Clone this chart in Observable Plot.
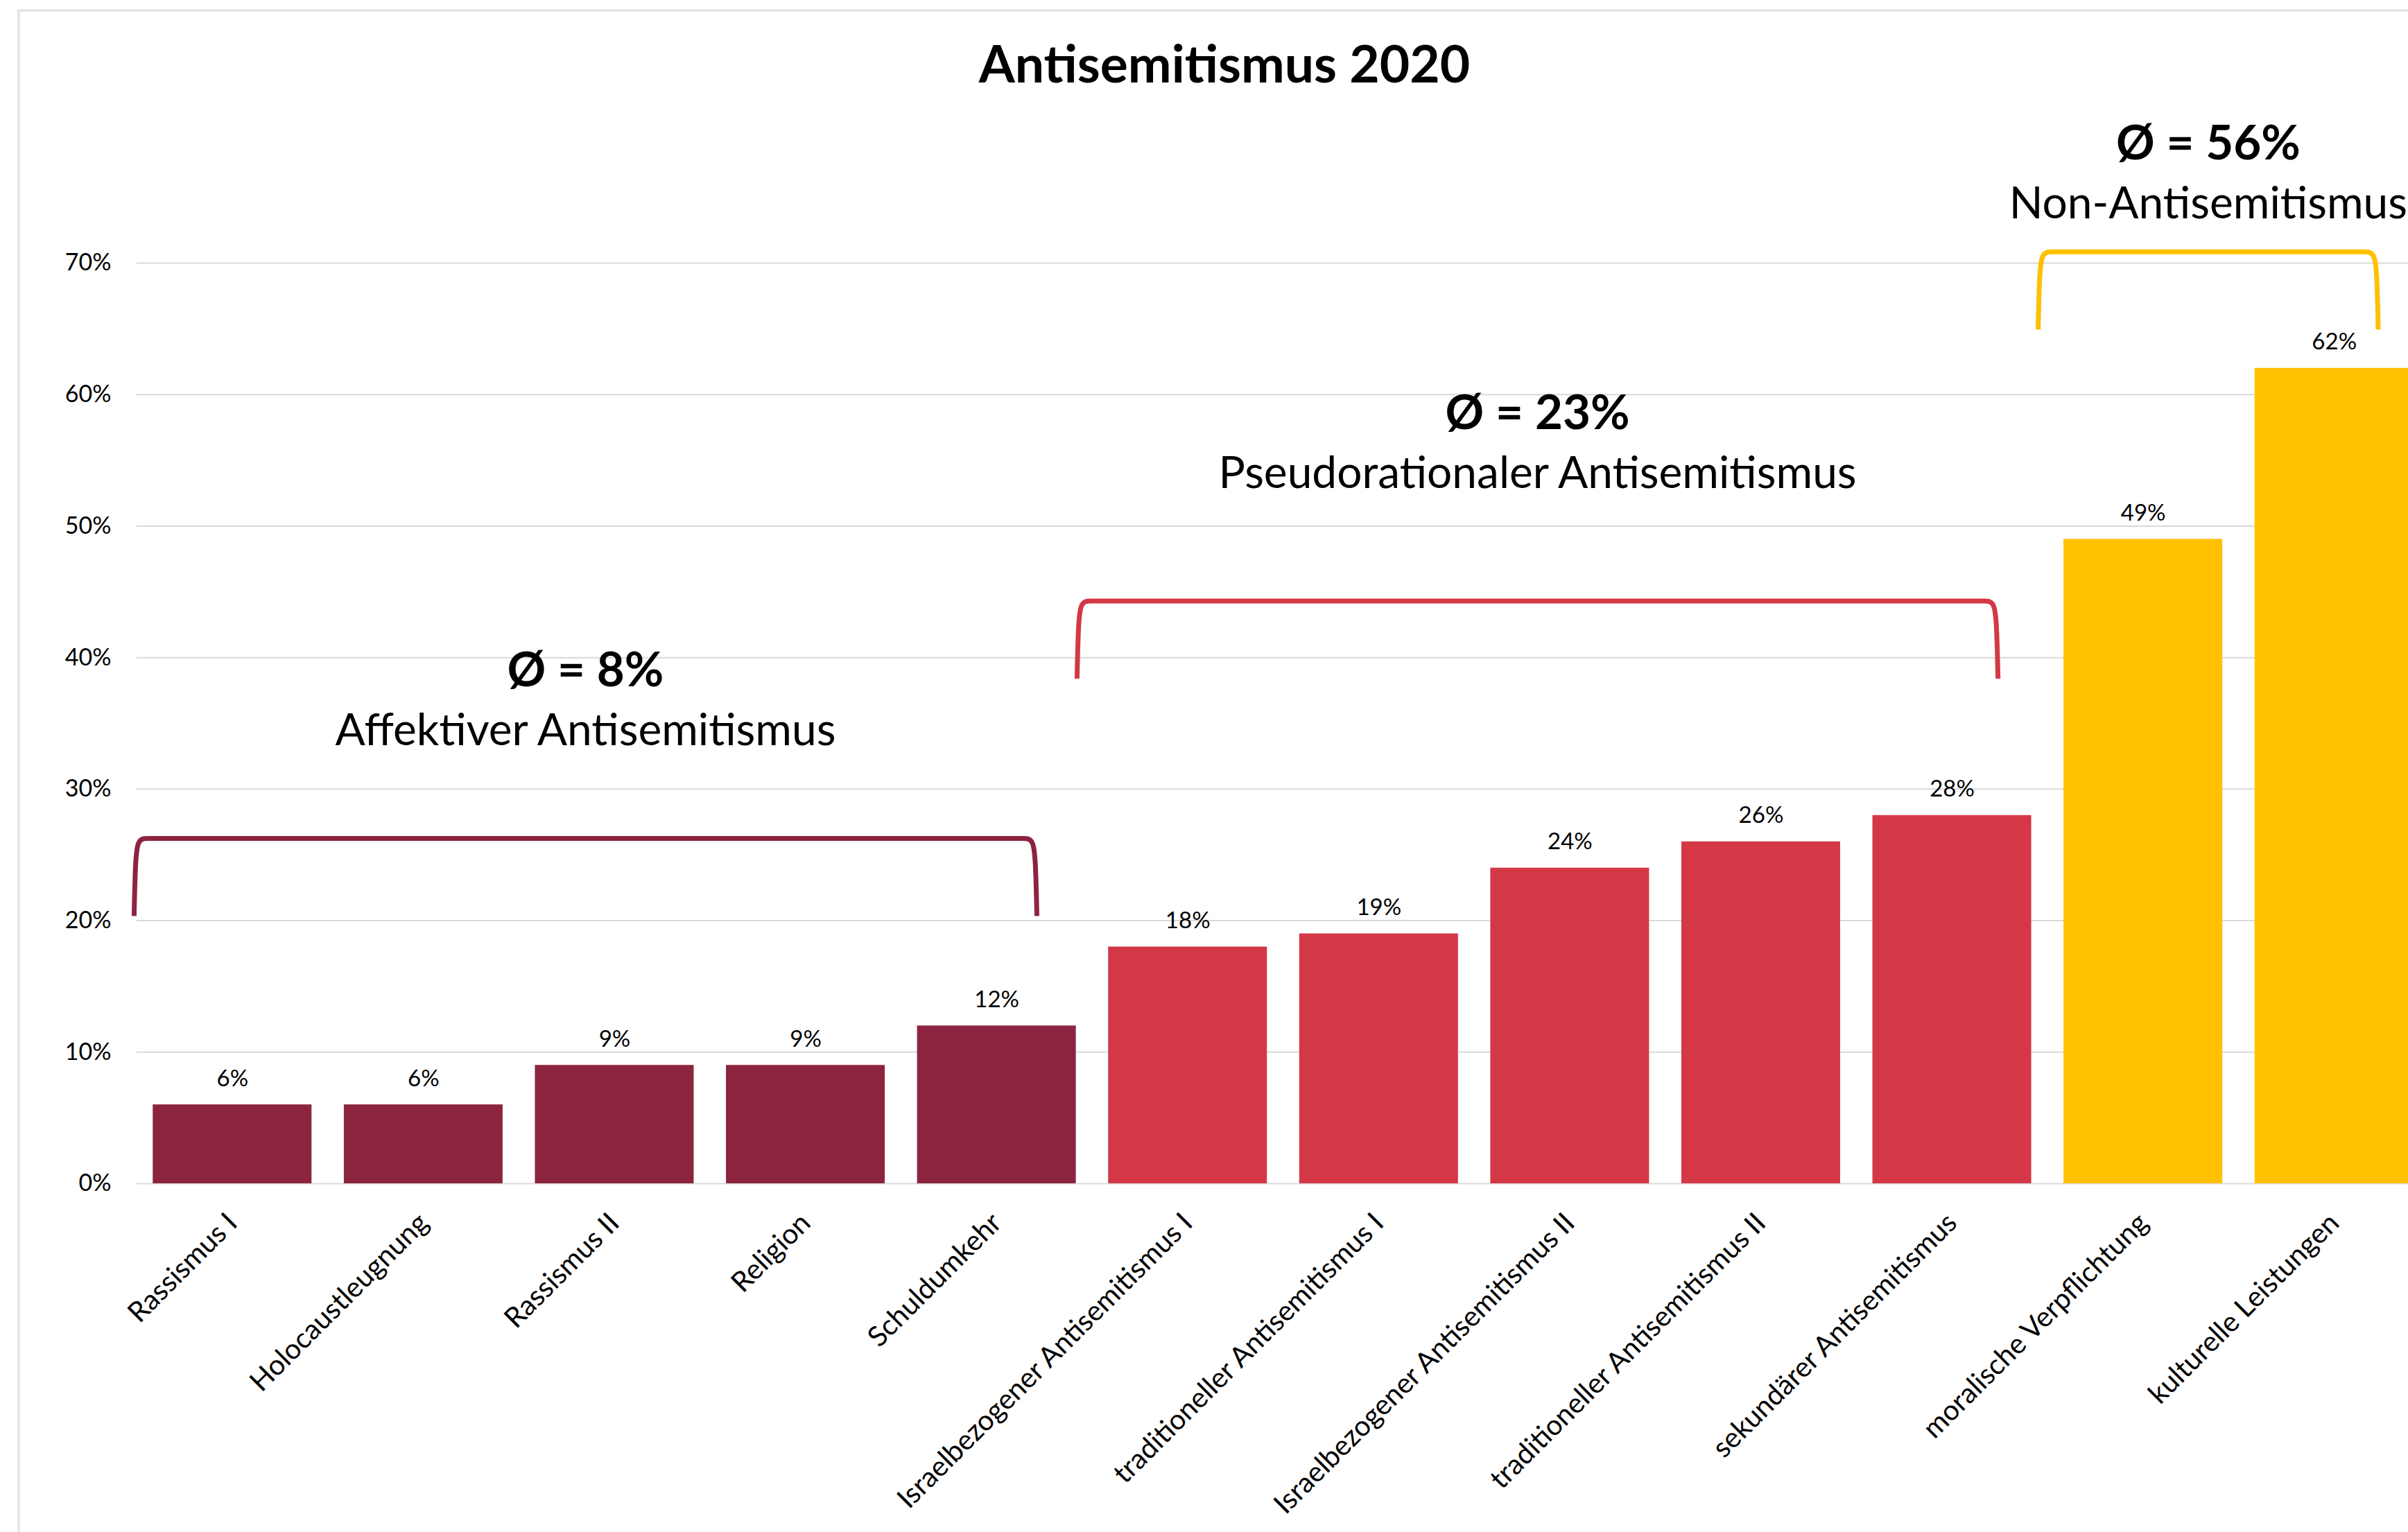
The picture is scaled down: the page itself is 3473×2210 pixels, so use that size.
<!DOCTYPE html>
<html>
<head>
<meta charset="utf-8">
<script src="https://cdn.jsdelivr.net/npm/d3@7"></script>
<script src="https://cdn.jsdelivr.net/npm/@observablehq/plot@0.6"></script>
<style>
  html, body { margin: 0; padding: 0; background: #fff; overflow: hidden; }
  #wrap { position: relative; width: 3473px; height: 2210px; background: #fff; }
  #title { height: 150px; box-sizing: border-box; padding-top: 45px; padding-left: 59px;
           line-height: 90px; font-family: Lato, sans-serif; font-weight: bold; font-size: 75px;
           text-align: center; white-space: nowrap; color: #000; }
  #frame { position: absolute; left: 25px; top: 13px; right: 0; bottom: 0;
           border-top: 4px solid #e6e6e6; border-left: 4px solid #e6e6e6; pointer-events: none; }
</style>
</head>
<body>
<div id="wrap">
  <div id="title">Antisemitismus 2020</div>
  <div id="chart"></div>
  <div id="frame"></div>
</div>
<script>
// ---- data ----
const categories = [
  "Rassismus I", "Holocaustleugnung", "Rassismus II", "Religion", "Schuldumkehr",
  "Israelbezogener Antisemitismus I", "traditioneller Antisemitismus I",
  "Israelbezogener Antisemitismus II", "traditioneller Antisemitismus II",
  "sekundärer Antisemitismus", "moralische Verpflichtung", "kulturelle Leistungen"
];
const values = [6, 6, 9, 9, 12, 18, 19, 24, 26, 28, 49, 62];
const groupOf = ["aff", "aff", "aff", "aff", "aff",
                 "pseudo", "pseudo", "pseudo", "pseudo", "pseudo",
                 "non", "non"];
const groupKeys = ["aff", "pseudo", "non"];
const groupNames = ["Affektiver Antisemitismus", "Pseudorationaler Antisemitismus", "Non-Antisemitismus"];
const groupColors = ["#8C2440", "#D43846", "#FFC000"];
// bracket annotations (x in category-index units, y in %)
const bracketStart = [-0.515, 4.42, 9.45];
const bracketEnd = [4.21, 9.24, 11.23];
const bracketTop = [26.25, 44.3, 70.85];
const groupLabelY = [37.8, 57.4, 77.9];
const yTicks = [0, 10, 20, 30, 40, 50, 60, 70];

// ---- derived tables ----
const bars = categories.map((name, i) => ({i, name, value: values[i], group: groupOf[i]}));

const groups = groupKeys.map((g, k) => ({
  group: g,
  name: groupNames[k],
  x: (bracketStart[k] + bracketEnd[k]) / 2,
  y: groupLabelY[k],
  avg: Math.round(d3.mean(bars.filter(b => b.group === g), b => b.value))
}));

const LEG = 5.9;
const bracketPts = groupKeys.flatMap((g, k) => {
  const x0 = bracketStart[k], x1 = bracketEnd[k], t = bracketTop[k], b = t - LEG;
  return [
    [x0, b], [x0, b], [x0 + 0.006, t - 2.2], [x0 + 0.016, t], [x0 + 0.07, t], [x0 + 0.14, t],
    [x1 - 0.14, t], [x1 - 0.07, t], [x1 - 0.016, t], [x1 - 0.006, t - 2.2], [x1, b], [x1, b]
  ].map(([x, y]) => ({group: g, x, y}));
});

const chart = Plot.plot({
  width: 3473,
  height: 2060,
  marginTop: 229,
  marginBottom: 503,
  marginLeft: 197,
  marginRight: 0,
  style: {fontFamily: "Lato, sans-serif", fontSize: "33px", background: "white", color: "black"},
  x: {type: "linear", domain: [-0.5, 11.5], range: [197, 3504]},
  y: {domain: [0, 70]},
  color: {domain: groupKeys, range: groupColors},
  marks: [
    Plot.gridY({ticks: yTicks, stroke: "#d9d9d9", strokeOpacity: 1, strokeWidth: 2}),
    Plot.axisY({ticks: yTicks, tickSize: 0, tickPadding: 37, tickFormat: d => d + "%",
                fontSize: 34, label: null}),
    Plot.axisX({ticks: d3.range(categories.length), tickSize: 0, tickPadding: 50, tickRotate: -45,
                tickFormat: i => categories[i], fontSize: 40.5, label: null}),
    Plot.rect(bars, {x1: d => d.i - 0.4155, x2: d => d.i + 0.4155, y1: 0, y2: "value", fill: "group"}),
    Plot.text(bars, {x: "i", y: "value", text: d => d.value + "%", lineAnchor: "bottom",
                     dy: -27, fontSize: 33, fill: "black"}),
    Plot.line(bracketPts, {x: "x", y: "y", z: "group", stroke: "group", strokeWidth: 7,
                           curve: "basis", strokeLinecap: "butt"}),
    Plot.text(groups, {x: "x", y: "y", text: d => `Ø = ${d.avg}%`, lineAnchor: "bottom",
                       fontSize: 69, fontWeight: "bold", fill: "black"}),
    Plot.text(groups, {x: "x", y: "y", text: "name", lineAnchor: "bottom", dy: 85,
                       fontSize: 64, fill: "black"})
  ]
});
document.getElementById("chart").appendChild(chart);
</script>
</body>
</html>
